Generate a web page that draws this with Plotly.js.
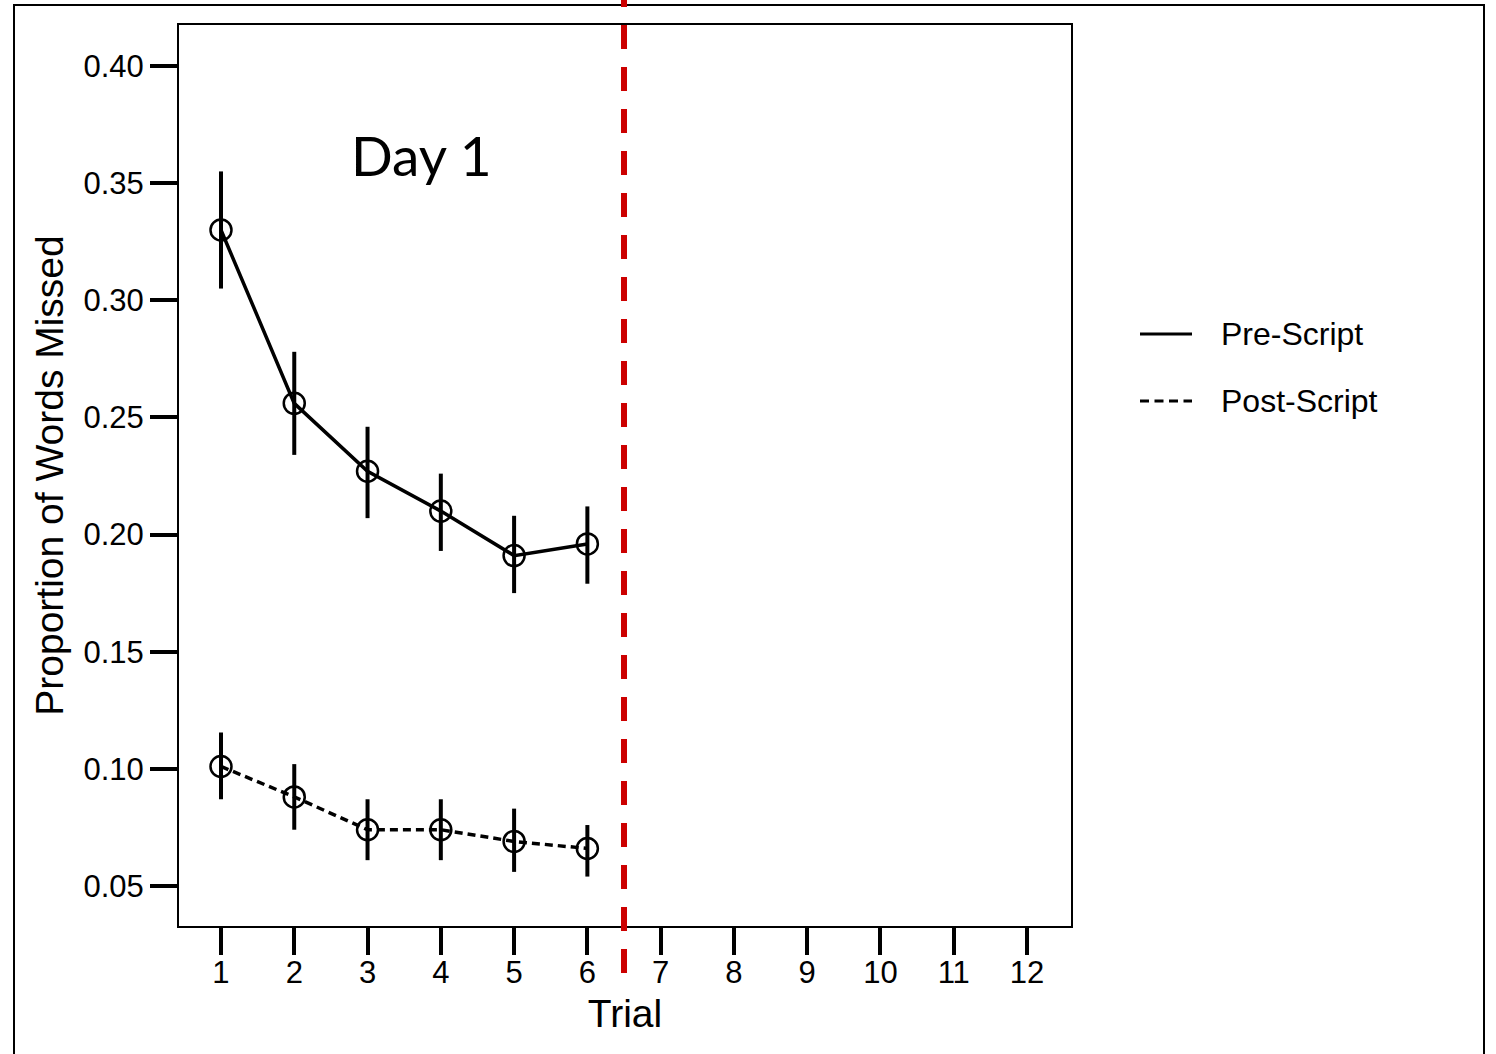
<!DOCTYPE html>
<html>
<head>
<meta charset="utf-8">
<script src="https://cdn.plot.ly/plotly-3.0.1.min.js"></script>
<style>
  html, body { margin: 0; padding: 0; background: #ffffff; }
  #chart { width: 1496px; height: 1054px; }
</style>
</head>
<body>
<div id="chart"></div>
<script>
// ---- data ----
const trials = [1, 2, 3, 4, 5, 6];
const preMean  = [0.330, 0.256, 0.227, 0.210, 0.191, 0.196];
const preUpper = [0.355, 0.278, 0.246, 0.226, 0.208, 0.212];
const preLower = [0.305, 0.234, 0.207, 0.193, 0.175, 0.179];
const postMean  = [0.101, 0.088, 0.074, 0.074, 0.069, 0.066];
const postUpper = [0.1155, 0.102, 0.087, 0.087, 0.083, 0.076];
const postLower = [0.087, 0.074, 0.061, 0.061, 0.056, 0.054];
const xTickVals = [1, 2, 3, 4, 5, 6, 7, 8, 9, 10, 11, 12];
const yTickVals = [0.05, 0.10, 0.15, 0.20, 0.25, 0.30, 0.35, 0.40];
const seriesNames = ['Pre-Script', 'Post-Script'];
const dividerTrial = 6.5;
const dayLabel = 'Day 1';

const up = (m, u) => u.map((v, i) => v - m[i]);
const dn = (m, l) => m.map((v, i) => v - l[i]);

const FONT = 'Liberation Sans, Arial, sans-serif';

const traces = [
  {
    x: trials, y: preMean, type: 'scatter', mode: 'lines+markers',
    name: seriesNames[0], showlegend: false,
    line: { color: '#000', width: 3.5, dash: 'solid' },
    marker: { symbol: 'circle-open', size: 21, color: '#000', line: { width: 2.5, color: '#000' } },
    error_y: { type: 'data', symmetric: false, array: up(preMean, preUpper), arrayminus: dn(preMean, preLower),
               color: '#000', thickness: 4, width: 0 }
  },
  {
    x: trials, y: postMean, type: 'scatter', mode: 'lines+markers',
    name: seriesNames[1], showlegend: false,
    line: { color: '#000', width: 3.5, dash: '8px,5px' },
    marker: { symbol: 'circle-open', size: 21, color: '#000', line: { width: 2.5, color: '#000' } },
    error_y: { type: 'data', symmetric: false, array: up(postMean, postUpper), arrayminus: dn(postMean, postLower),
               color: '#000', thickness: 4, width: 0 }
  }
];

// plot area in px: left 179, right 1071, top 25, bottom 926
const L = 179, R = 1071, T = 25, B = 926;
const W = R - L, H = B - T;
const px = v => (v - L) / W;
const py = v => (B - v) / H;

const layout = {
  width: 1496, height: 1054,
  margin: { l: L, r: 1496 - R, t: T, b: 1054 - B, pad: 0 },
  paper_bgcolor: '#fff', plot_bgcolor: '#fff',
  showlegend: false,
  font: { family: FONT, color: '#000', size: 31 },
  xaxis: {
    range: [0.427, 12.6], tickvals: xTickVals, ticktext: xTickVals.map(String),
    showgrid: false, zeroline: false, showline: true, mirror: true, linecolor: '#000', linewidth: 2,
    ticks: 'outside', ticklen: 27, tickwidth: 4, tickcolor: '#000', ticklabelstandoff: -9,
    tickfont: { family: FONT, size: 31, color: '#000' },
    title: { text: 'Trial', font: { family: FONT, size: 39, color: '#000' }, standoff: 10 }
  },
  yaxis: {
    range: [0.0329, 0.4175], tickvals: yTickVals, tickformat: '.2f',
    showgrid: false, zeroline: false, showline: true, mirror: true, linecolor: '#000', linewidth: 2,
    ticks: 'outside', ticklen: 27, tickwidth: 4, tickcolor: '#000',
    tickfont: { family: FONT, size: 31, color: '#000' },
    title: { text: 'Proportion of Words Missed', font: { family: FONT, size: 39, color: '#000' }, standoff: 8 }
  },
  shapes: [
    // outer frame
    { type: 'rect', xref: 'paper', yref: 'paper', x0: px(14), x1: px(1484), y0: py(1070), y1: py(5),
      line: { color: '#000', width: 2 }, fillcolor: 'rgba(0,0,0,0)', layer: 'below' },
    // red divider
    { type: 'line', xref: 'x', yref: 'paper', x0: dividerTrial, x1: dividerTrial, y0: py(-17), y1: py(973),
      line: { color: '#cc0000', width: 6, dash: '24px,18px' } },
    // legend samples
    { type: 'line', xref: 'paper', yref: 'paper', x0: px(1140), x1: px(1192), y0: py(334), y1: py(334),
      line: { color: '#000', width: 3 } },
    { type: 'line', xref: 'paper', yref: 'paper', x0: px(1140), x1: px(1192), y0: py(401), y1: py(401),
      line: { color: '#000', width: 3, dash: '9px,5.5px' } }
  ],
  annotations: [
    { text: dayLabel, xref: 'x', yref: 'y', x: 3.74, y: 0.362, showarrow: false,
      xanchor: 'center', yanchor: 'middle', font: { family: 'Lato, Carlito, Calibri, sans-serif', size: 55, color: '#000' } },
    { text: seriesNames[0], xref: 'paper', yref: 'paper', x: px(1219), y: py(334), showarrow: false,
      xanchor: 'left', yanchor: 'middle', font: { family: FONT, size: 32, color: '#000' } },
    { text: seriesNames[1], xref: 'paper', yref: 'paper', x: px(1219), y: py(401), showarrow: false,
      xanchor: 'left', yanchor: 'middle', font: { family: FONT, size: 32, color: '#000' } }
  ]
};

Plotly.newPlot('chart', traces, layout, { displayModeBar: false, staticPlot: true });
</script>
</body>
</html>
